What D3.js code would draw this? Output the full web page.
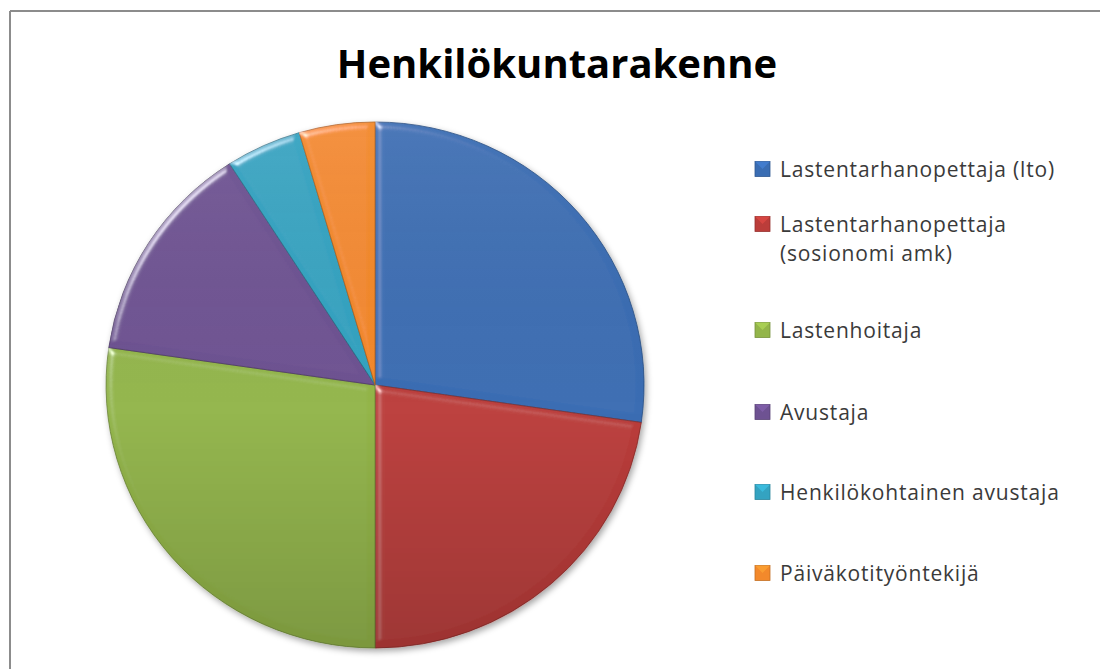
<!DOCTYPE html>
<html>
<head>
<meta charset="utf-8">
<script src="https://cdn.jsdelivr.net/npm/d3@7"></script>
<style>
  html, body { margin: 0; padding: 0; background: #fff; }
  svg { display: block; font-family: "Open Sans", Lato, sans-serif; }
</style>
</head>
<body>
<svg id="chart" width="1100" height="669"></svg>
<script>
const title = "Henkilökuntarakenne"
const categories = ["Lastentarhanopettaja (lto)", "Lastentarhanopettaja (sosionomi amk)", "Lastenhoitaja", "Avustaja", "Henkilökohtainen avustaja", "Päiväkotityöntekijä"]
const values = [6, 5, 6, 3, 1, 1]
const colors = ["#3a6db3", "#bb3d3a", "#93b54a", "#6e5292", "#34a3c1", "#f3892b"]
// legend labels as they wrap in the picture
const legendLines = [["Lastentarhanopettaja (lto)"], ["Lastentarhanopettaja", "(sosionomi amk)"], ["Lastenhoitaja"], ["Avustaja"], ["Henkilökohtainen avustaja"], ["Päiväkotityöntekijä"]]

const svg = d3.select("#chart")
const W = 1100, H = 669
const cx = 375, cy = 385, rx = 269, ry = 263

const defs = svg.append("defs")
// bevel: light from the upper left, only the sloped rim catches it
const bevel = defs.append("filter").attr("id", "bevel").attr("x", "-10%").attr("y", "-10%").attr("width", "120%").attr("height", "120%")
bevel.append("feGaussianBlur").attr("in", "SourceAlpha").attr("stdDeviation", 3.5).attr("result", "blur")
bevel.append("feSpecularLighting").attr("in", "blur").attr("surfaceScale", 6).attr("specularConstant", 1)
  .attr("specularExponent", 20).attr("lighting-color", "#ffffff").attr("result", "spec")
  .append("feDistantLight").attr("azimuth", 225).attr("elevation", 18)
bevel.append("feComposite").attr("in", "spec").attr("in2", "SourceAlpha").attr("operator", "in").attr("result", "specOut")
bevel.append("feComposite").attr("in", "SourceGraphic").attr("in2", "specOut").attr("operator", "arithmetic")
  .attr("k1", 0).attr("k2", 1).attr("k3", 0.6).attr("k4", 0)

const shadow = defs.append("filter").attr("id", "shadow").attr("x", "-10%").attr("y", "-10%").attr("width", "125%").attr("height", "125%")
shadow.append("feDropShadow").attr("dx", 2).attr("dy", 3).attr("stdDeviation", 3).attr("flood-color", "#000").attr("flood-opacity", 0.35)

const shade = defs.append("linearGradient").attr("id", "shade").attr("x1", 0).attr("y1", 0).attr("x2", 0).attr("y2", 1)
shade.append("stop").attr("offset", "0%").attr("stop-color", "#fff").attr("stop-opacity", 0.06)
shade.append("stop").attr("offset", "55%").attr("stop-color", "#000").attr("stop-opacity", 0)
shade.append("stop").attr("offset", "100%").attr("stop-color", "#000").attr("stop-opacity", 0.16)

// frame: only top and left edges show
svg.append("line").attr("x1", 10).attr("y1", 11).attr("x2", W).attr("y2", 11).attr("stroke", "#8c8c8c").attr("stroke-width", 2)
svg.append("line").attr("x1", 10).attr("y1", 11).attr("x2", 10).attr("y2", H).attr("stroke", "#8c8c8c").attr("stroke-width", 2)

svg.append("text").attr("x", 557).attr("y", 78).attr("text-anchor", "middle")
  .attr("font-size", 40).attr("font-weight", "bold").attr("fill", "#000").text(title)

const pie = d3.pie().sort(null).value(d => d)
const arcs = pie(values)
const arc = d3.arc().innerRadius(0).outerRadius(ry)

const g = svg.append("g").attr("transform", `translate(${cx},${cy}) scale(${rx / ry},1)`)
const gs = g.append("g").attr("filter", "url(#shadow)")
gs.selectAll("path.slice").data(arcs).join("path").attr("class", "slice")
  .attr("d", arc).attr("fill", (d, i) => colors[i]).attr("filter", "url(#bevel)")
  .attr("stroke", (d, i) => d3.color(colors[i]).darker(0.9)).attr("stroke-width", 0.8)
g.append("circle").attr("r", ry).attr("fill", "url(#shade)")

// legend
const legendX = 755
const rowY = [169, 224, 330, 412, 492, 573]
const lineH = 29
const sq = 15
const leg = svg.append("g").attr("class", "legend")
legendLines.forEach((lines, i) => {
  const y = rowY[i]
  const c = d3.color(colors[i])
  leg.append("rect").attr("x", legendX).attr("y", y - sq / 2).attr("width", sq).attr("height", sq)
    .attr("fill", colors[i]).attr("stroke", c.darker(0.6)).attr("stroke-width", 0.8)
  leg.append("path").attr("d", `M${legendX},${y - sq / 2}L${legendX + sq / 2},${y}L${legendX + sq},${y - sq / 2}Z`)
    .attr("fill", c.brighter(0.6)).attr("opacity", 0.6)
  const txt = leg.append("text").attr("x", legendX + 25).attr("y", y).attr("dy", "0.36em")
    .attr("font-size", 21).attr("letter-spacing", 0.8).attr("fill", "#3a3a3a")
  lines.forEach((t, j) => {
    txt.append("tspan").attr("x", legendX + 25).attr("y", y + j * lineH).attr("dy", "0.36em").text(t)
  })
})
</script>
</body>
</html>
